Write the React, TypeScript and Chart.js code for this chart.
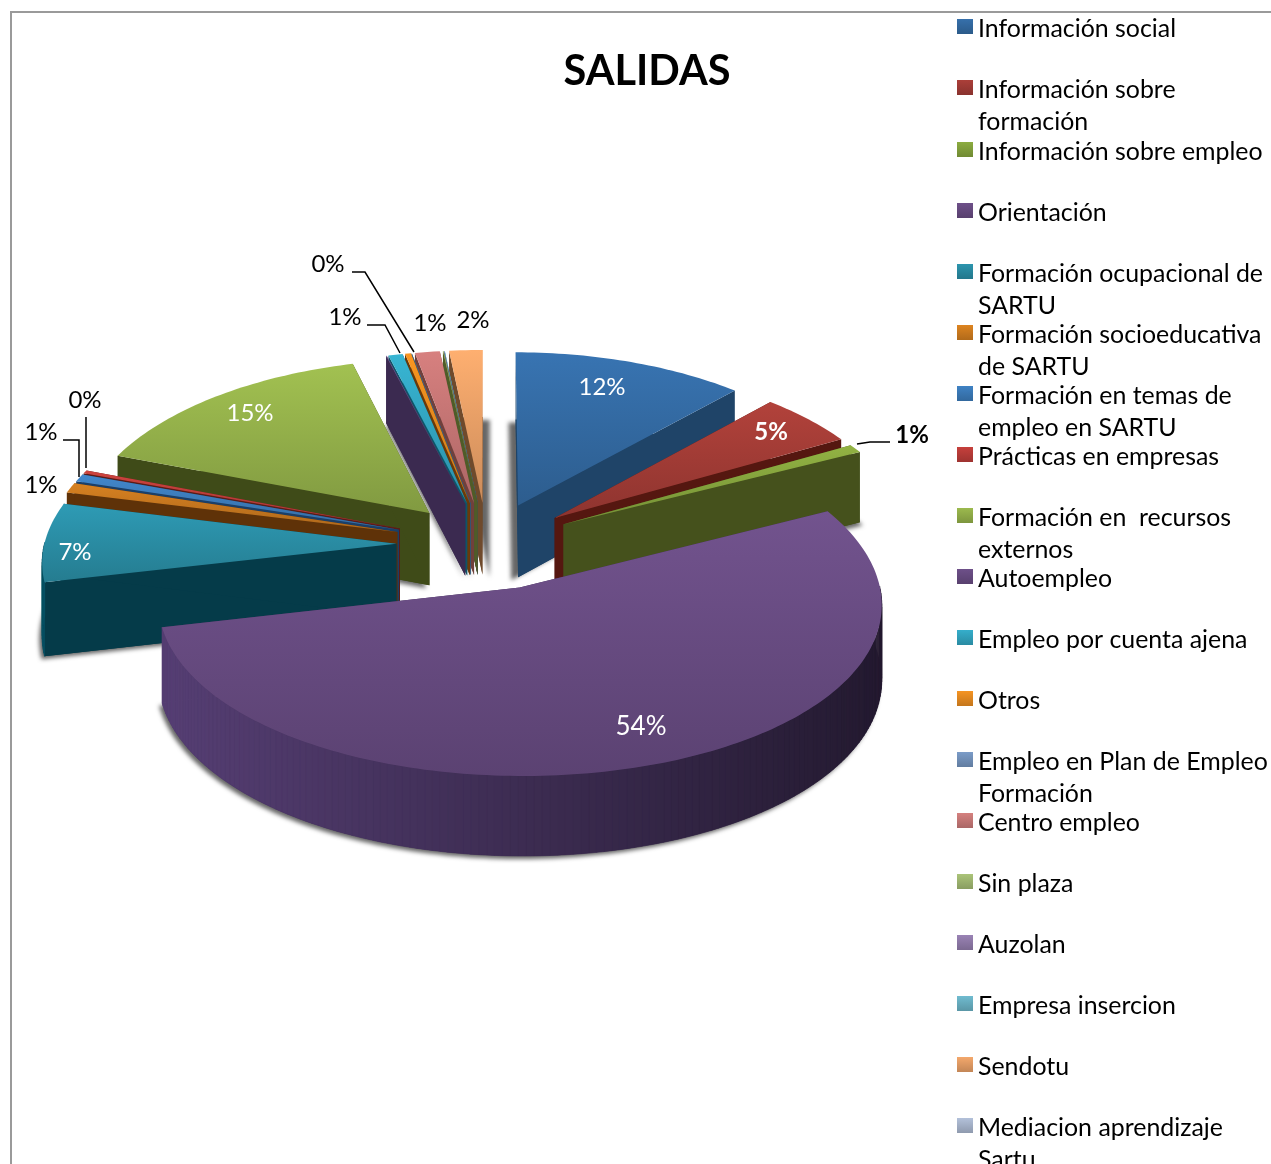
import React, { useEffect, useRef } from "react";
import { Chart, registerables } from "chart.js";

Chart.register(...registerables);

const titleText = "SALIDAS";
const categories = [
  "Información social",
  "Información sobre formación",
  "Información sobre empleo",
  "Orientación",
  "Formación ocupacional de SARTU",
  "Formación socioeducativa de SARTU",
  "Formación en temas de empleo en SARTU",
  "Prácticas en empresas",
  "Formación en  recursos externos",
  "Autoempleo",
  "Empleo por cuenta ajena",
  "Otros",
  "Empleo en Plan de Empleo Formación",
  "Centro empleo",
  "Sin plaza",
  "Auzolan",
  "Empresa insercion",
  "Sendotu",
  "Mediacion aprendizaje Sartu",
];
const legendLines = [
  ["Información social"],
  ["Información sobre", "formación"],
  ["Información sobre empleo"],
  ["Orientación"],
  ["Formación ocupacional de", "SARTU"],
  ["Formación socioeducativa", "de SARTU"],
  ["Formación en temas de", "empleo en SARTU"],
  ["Prácticas en empresas"],
  ["Formación en  recursos", "externos"],
  ["Autoempleo"],
  ["Empleo por cuenta ajena"],
  ["Otros"],
  ["Empleo en Plan de Empleo", "Formación"],
  ["Centro empleo"],
  ["Sin plaza"],
  ["Auzolan"],
  ["Empresa insercion"],
  ["Sendotu"],
  ["Mediacion aprendizaje", "Sartu"],
];
const values = [11.8, 5.0, 0.8, 53.8, 7.45, 0.95, 0.7, 0.3, 15.1, 0.03, 0.72, 0.3, 0.01, 1.26, 0.03, 0.02, 0.03, 1.7, 0];
const explosion = [116, 116, 116, 125, 120, 124, 124, 124, 116, 116, 116, 116, 116, 116, 116, 116, 116, 116, 116];
const topColours = [
  "#3670ab", "#ab3f39", "#8cac40", "#6e5089", "#2c95ae", "#cf7c20",
  "#3f82c4", "#c6403c", "#9cba4e", "#7d5fa0", "#35aecb", "#f09020",
  "#6d93c4", "#cf7b7a", "#a8c26e", "#9a83b5", "#66b6cc", "#f4a86c", "#a9b9d6",
];
const wallColours = [
  "#1f4468", "#551710", "#45511c", "#3f2e55", "#053b49", "#5f3208",
  "#1b3f68", "#5a1c18", "#3f4b18", "#3b2a50", "#0f5468", "#6a3a0a",
  "#2f5878", "#70403c", "#4f5c28", "#4a3a60", "#2a6f80", "#6f4a2c", "#586a88",
];
const legendSwatchTop = ["#3670ab", "#ab3f39", "#8cac40", "#6e5089", "#2c95ae", "#dd8420", "#3f82c4", "#c6403c", "#9cba4e", "#6e5089", "#35aecb", "#f59423", "#7b9cc8", "#d5817f", "#abc479", "#9a83b5", "#70bcd0", "#f4a86c", "#b3c1da"];
const shadowShift = [-7, -3, 3, -3, -3, -3, -3, -3, -3, -3, -3, -3, -3, -3, -3, -3, -3, 7, 7];

// Label table: text comes from the values, placement is only annotation layout.
const labelPlaces: [number, number, number, string, boolean, number][] = [
  [0, 602, 387, "#ffffff", false, 24],
  [1, 771, 432, "#ffffff", true, 24],
  [2, 912, 435, "#000000", true, 24],
  [3, 641, 727, "#ffffff", false, 26],
  [4, 75, 552, "#ffffff", false, 24],
  [5, 41, 485, "#000000", false, 24],
  [6, 41, 432, "#000000", false, 24],
  [7, 85, 400, "#000000", false, 24],
  [8, 250, 413, "#ffffff", false, 24],
  [10, 345, 317, "#000000", false, 24],
  [11, 328, 264, "#000000", false, 24],
  [13, 430, 323, "#000000", false, 24],
  [17, 473, 320, "#000000", false, 24],
];
const leaderLines: [number, number][][] = [
  [[352, 272], [365, 272], [414, 352]],
  [[367, 325], [385, 325], [400, 353]],
  [[86, 417], [86, 468]],
  [[63, 440], [79, 440], [79, 477]],
  [[857, 444], [870, 442], [890, 442]],
];

const view = { cx: 487, cy: 544, a: 352, b: 169, kx: 0.09, ky: 0.07, h: 73 };
const FONT = "Lato, 'Open Sans', sans-serif";

const shade = (hex: string, f: number) => {
  const n = parseInt(hex.slice(1), 16);
  const c = (v: number) => Math.max(0, Math.min(255, Math.round(v * f)));
  return `rgb(${c((n >> 16) & 255)},${c((n >> 8) & 255)},${c(n & 255)})`;
};

const project = (X: number, Z: number, down: number): [number, number] => {
  const wx = 1 / (1 - view.kx * Z);
  const wy = 1 / (1 - view.ky * Z);
  return [view.cx + view.a * X * wx, view.cy + view.b * Z * wy + down * view.h * wy];
};

const poly = (ctx: CanvasRenderingContext2D, pts: [number, number][]) => {
  ctx.beginPath();
  pts.forEach((p, i) => (i ? ctx.lineTo(p[0], p[1]) : ctx.moveTo(p[0], p[1])));
  ctx.closePath();
};

const pie3d = {
  id: "pie3d",
  beforeDatasetDraw(chart: any) {
    const ctx: CanvasRenderingContext2D = chart.ctx;
    const arcs = chart.getDatasetMeta(0).data as any[];
    const slices = arcs
      .map((arc: any, i: number) => {
        const start = arc.startAngle;
        const end = arc.endAngle;
        const mid = (start + end) / 2;
        const o = arc.options.offset / arc.outerRadius;
        const ax = Math.cos(mid) * o;
        const az = Math.sin(mid) * o;
        const steps = Math.max(2, Math.ceil((end - start) / 0.02));
        const rim: [number, number, number][] = [];
        for (let s = 0; s <= steps; s++) {
          const t = start + ((end - start) * s) / steps;
          rim.push([ax + Math.cos(t), az + Math.sin(t), t]);
        }
        return { i, ax, az, rim, empty: end - start <= 0 };
      })
      .filter((s: any) => !s.empty);
    slices.sort((p: any, q: any) => p.az - q.az);
    ctx.save();
    for (const sl of slices) {
      const { i, ax, az, rim } = sl;
      const top = [[ax, az] as number[], ...rim];
      const topPts = top.map((p: number[]) => project(p[0], p[1], 0));
      const botPts = top.map((p: number[]) => project(p[0], p[1], 1));
      // soft shadow under the slice
      ctx.save();
      ctx.shadowColor = "rgba(0,0,0,0.6)";
      ctx.shadowBlur = 4;
      ctx.shadowOffsetX = shadowShift[i];
      ctx.shadowOffsetY = 3;
      ctx.fillStyle = wallColours[i];
      poly(ctx, botPts);
      ctx.fill();
      ctx.restore();
      // radial walls
      const last = top.length - 1;
      ctx.fillStyle = wallColours[i];
      for (const e of [1, last]) {
        poly(ctx, [topPts[0], topPts[e], botPts[e], botPts[0]]);
        ctx.fill();
      }
      // outer wall, in narrow strips, only where it faces the viewer
      for (let s = 1; s < last; s++) {
        const t = (rim[s - 1][2] + rim[s][2]) / 2;
        if (Math.sin(t) < 0) continue;
        const X = (rim[s - 1][0] + rim[s][0]) / 2;
        const f = Math.max(0.55, Math.min(1.35, 1 - 0.42 * X));
        ctx.fillStyle = shade(wallColours[i], f);
        ctx.strokeStyle = ctx.fillStyle;
        ctx.lineWidth = 0.6;
        poly(ctx, [topPts[s], topPts[s + 1], botPts[s + 1], botPts[s]]);
        ctx.fill();
        ctx.stroke();
      }
      // top face
      const ys = topPts.map((p: number[]) => p[1]);
      const g = ctx.createLinearGradient(0, Math.min(...ys), 0, Math.max(...ys));
      g.addColorStop(0, shade(topColours[i], 1.04));
      g.addColorStop(1, shade(topColours[i], 0.83));
      ctx.fillStyle = g;
      poly(ctx, topPts);
      ctx.fill();
    }
    ctx.restore();
    return false;
  },
  afterDraw(chart: any) {
    const ctx: CanvasRenderingContext2D = chart.ctx;
    ctx.save();
    // frame
    ctx.strokeStyle = "#9a9a9a";
    ctx.lineWidth = 2;
    ctx.beginPath();
    ctx.moveTo(11, 1164);
    ctx.lineTo(11, 12);
    ctx.lineTo(1271, 12);
    ctx.stroke();
    // leader lines
    ctx.strokeStyle = "#000000";
    ctx.lineWidth = 1.5;
    for (const line of leaderLines) {
      ctx.beginPath();
      line.forEach((p, i) => (i ? ctx.lineTo(p[0], p[1]) : ctx.moveTo(p[0], p[1])));
      ctx.stroke();
    }
    // percentage labels
    const total = values.reduce((s, v) => s + v, 0);
    ctx.textAlign = "center";
    ctx.textBaseline = "middle";
    for (const [i, x, y, colour, bold, size] of labelPlaces) {
      ctx.font = `${bold ? "bold " : ""}${size}px ${FONT}`;
      ctx.fillStyle = colour;
      ctx.fillText(`${Math.round((values[i] / total) * 100)}%`, x, y);
    }
    // legend
    ctx.textAlign = "left";
    ctx.textBaseline = "alphabetic";
    ctx.font = `24.9px ${FONT}`;
    legendLines.forEach((lines, i) => {
      const rowY = Math.round(37.4 + i * 61.05);
      const g = ctx.createLinearGradient(0, rowY - 18, 0, rowY - 3);
      g.addColorStop(0, shade(legendSwatchTop[i], 1));
      g.addColorStop(1, shade(legendSwatchTop[i], 0.8));
      ctx.fillStyle = g;
      ctx.fillRect(957, rowY - 18, 16, 15);
      ctx.fillStyle = "#000000";
      lines.forEach((t, j) => ctx.fillText(t, 978, rowY + j * 32));
    });
    ctx.restore();
  },
};

export default function App() {
  const ref = useRef<HTMLCanvasElement>(null);
  useEffect(() => {
    document.body.style.margin = "0";
    const chart = new Chart(ref.current!, {
      type: "pie",
      data: {
        labels: categories,
        datasets: [{ data: values, backgroundColor: topColours, borderWidth: 0, offset: explosion, hoverOffset: 0 }],
      },
      options: {
        responsive: false,
        animation: false,
        layout: { padding: { left: 23 } },
        plugins: {
          legend: { display: false },
          tooltip: { enabled: false },
          title: {
            display: true,
            text: titleText,
            fullSize: false,
            color: "#000000",
            font: { family: FONT, size: 41.5, weight: "bold" },
            padding: { top: 47, bottom: 10 },
          },
        },
      },
      plugins: [pie3d],
    } as any);
    return () => chart.destroy();
  }, []);
  return (
    <div style={{ position: "absolute", left: 0, top: 0, background: "#fff" }}>
      <canvas ref={ref} width={1271} height={1164} style={{ display: "block" }} />
    </div>
  );
}
